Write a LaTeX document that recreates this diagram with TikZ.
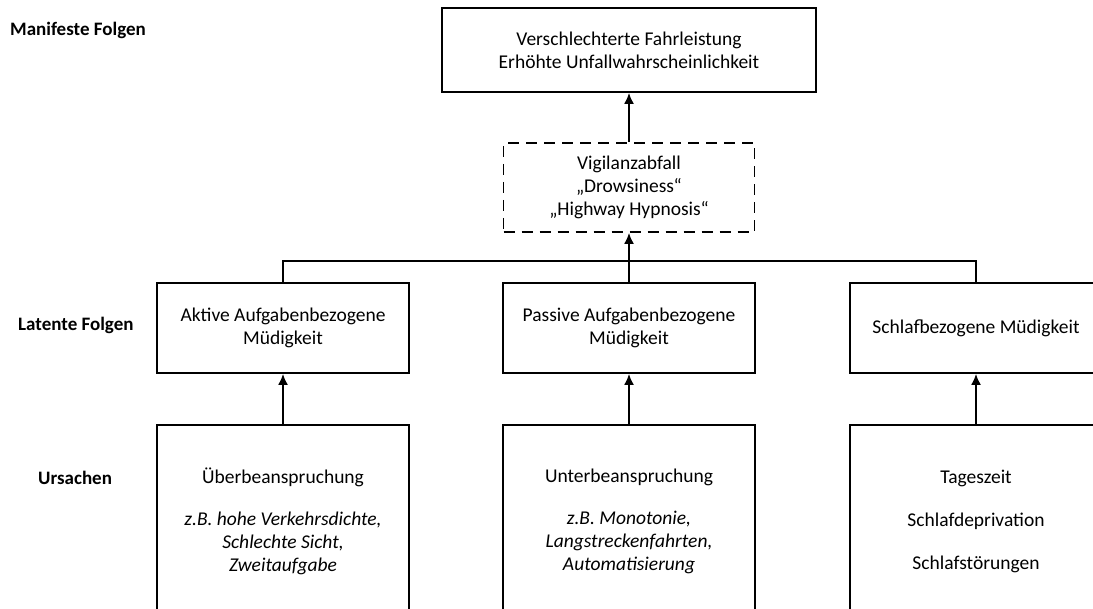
\documentclass[tikz,border=0pt]{standalone}
\usepackage{fontspec}
\setmainfont{Carlito}
\usetikzlibrary{arrows.meta}
\begin{document}
\begin{tikzpicture}[x=1pt,y=-1pt,
  box/.style={draw,line width=1.8pt,align=center,inner sep=0pt,
    font=\fontsize{19.5}{23}\selectfont,minimum width=252pt},
  lvl/.style={font=\fontsize{19}{22}\selectfont\bfseries,anchor=west,inner sep=0pt},
  conn/.style={line width=1.8pt},
  arr/.style={line width=1.8pt,-{Latex[length=11pt,width=10pt]}}]
\useasboundingbox (0,0) rectangle (1093,609);
\clip (0,0) rectangle (1093,609);
% level labels
\node[lvl] (l1) at (10,30) {Manifeste Folgen};
\node[lvl] (l2) at (18,325) {Latente Folgen};
\node[lvl] (l3) at (38,478) {Ursachen};
% top
\node[box,minimum width=374pt,minimum height=84pt] (top) at (629,50)
  {Verschlechterte Fahrleistung\\Erhöhte Unfallwahrscheinlichkeit};
\node[box,dash pattern=on 11pt off 7pt,minimum width=251pt,minimum height=89pt] (vig) at (629,187.5)
  {Vigilanzabfall\\„Drowsiness“\\„Highway Hypnosis“};
% latent
\node[box,minimum height=90pt] (ma) at (283,328) {Aktive Aufgabenbezogene\\Müdigkeit};
\node[box,minimum height=90pt] (mb) at (629,328) {Passive Aufgabenbezogene\\Müdigkeit};
\node[box,minimum height=90pt] (mc) at (976,328) {Schlafbezogene Müdigkeit};
% causes
\node[box,minimum height=192pt] (ca) at (283,521)
  {Überbeanspruchung\\[19pt]\itshape z.B. hohe Verkehrsdichte,\\\itshape Schlechte Sicht,\\\itshape Zweitaufgabe};
\node[box,minimum height=192pt] (cb) at (629,521)
  {Unterbeanspruchung\\[19pt]\itshape z.B. Monotonie,\\\itshape Langstreckenfahrten,\\\itshape Automatisierung};
\node[box,minimum height=192pt] (cc) at (976,521)
  {Tageszeit\\[20pt]Schlafdeprivation\\[20pt]Schlafstörungen};
% connectors
\coordinate (hl) at (629,261);
\draw[conn] (ma.north) |- (hl) -| (mc.north);
\draw[conn] (mb.north) -- (hl);
\draw[arr] (hl) -- (vig.south);
\draw[arr] (vig.north) -- (top.south);
\draw[arr] (ca.north) -- (ma.south);
\draw[arr] (cb.north) -- (mb.south);
\draw[arr] (cc.north) -- (mc.south);
\end{tikzpicture}
\end{document}
